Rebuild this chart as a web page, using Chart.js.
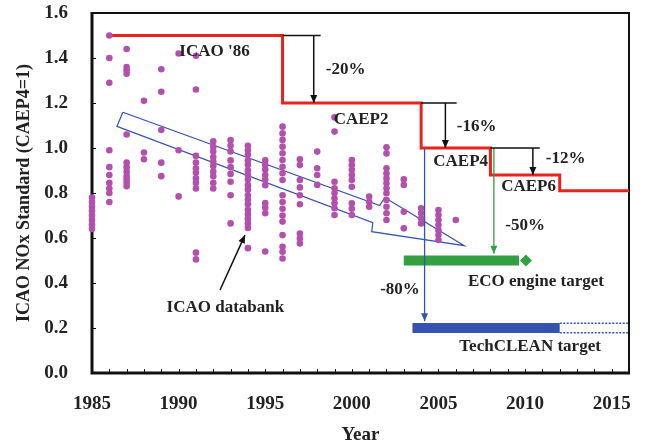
<!DOCTYPE html>
<html>
<head>
<meta charset="utf-8">
<script src="https://cdn.jsdelivr.net/npm/chart.js@4"></script>
<style>
  html, body { margin: 0; padding: 0; background: #fff; }
  canvas { display: block; }
</style>
</head>
<body>
<canvas id="nox" width="646" height="446"></canvas>
<script>
// ICAO NOx standards (step line)
const stdYears = [1986, 1996, 2004, 2008, 2012, 2016];
const stdLevels = [1.5, 1.2, 1.0, 0.88, 0.81, 0.81];

// ICAO databank engines, one column per certification year
const dbYears = [1985, 1986, 1987, 1988, 1989, 1990, 1991, 1992, 1993, 1994, 1995,
                 1996, 1997, 1998, 1999, 2000, 2001, 2002, 2003, 2004, 2005, 2006];
const dbValues = [
  [0.78, 0.76, 0.74, 0.72, 0.70, 0.68, 0.66, 0.64],
  [1.50, 1.40, 1.29, 0.99, 0.915, 0.88, 0.845, 0.82, 0.80, 0.76],
  [1.44, 1.36, 1.345, 1.33, 1.06, 0.935, 0.915, 0.895, 0.875, 0.86, 0.845, 0.83],
  [1.21, 0.98, 0.95],
  [1.35, 1.25, 1.08, 0.935, 0.875],
  [1.42, 0.99, 0.785],
  [1.41, 1.26, 0.965, 0.935, 0.91, 0.89, 0.865, 0.845, 0.82, 0.535, 0.505],
  [1.03, 1.005, 0.985, 0.96, 0.94, 0.92, 0.895, 0.875, 0.845, 0.82],
  [1.035, 1.01, 0.985, 0.945, 0.915, 0.885, 0.85, 0.79, 0.665],
  [1.01, 0.99, 0.97, 0.945, 0.925, 0.90, 0.88, 0.86, 0.835, 0.815, 0.79, 0.77, 0.75, 0.725, 0.705, 0.685, 0.665, 0.645, 0.555],
  [0.945, 0.925, 0.905, 0.88, 0.86, 0.835, 0.755, 0.735, 0.71, 0.54],
  [1.095, 1.065, 1.036, 1.006, 0.977, 0.947, 0.917, 0.888, 0.858, 0.79, 0.76, 0.73, 0.70, 0.673, 0.613, 0.561, 0.539, 0.509],
  [0.95, 0.924, 0.858, 0.825, 0.79, 0.75, 0.62, 0.598, 0.576],
  [0.984, 0.91, 0.88, 0.836],
  [1.136, 1.073, 0.85, 0.821, 0.80, 0.777, 0.754, 0.732, 0.702],
  [0.947, 0.924, 0.902, 0.88, 0.858, 0.828, 0.754, 0.73, 0.702],
  [0.784, 0.761, 0.739],
  [1.003, 0.976, 0.91, 0.887, 0.865, 0.843, 0.821, 0.799, 0.769, 0.739, 0.71, 0.68],
  [0.861, 0.836, 0.717, 0.643],
  [0.732, 0.71, 0.687, 0.665],
  [0.724, 0.702, 0.68, 0.658, 0.635, 0.613, 0.591],
  [0.68]
];

// targets
const ecoSpan = [2003, 2009.65];
const ecoLevel = 0.5;
const ecoMarkerYear = 2010.05;
const cleanSpan = [2003.5, 2012];
const cleanFuture = [2012, 2016];
const cleanLevel = 0.2;

// hollow trend arrow outline (year, value)
const trendYears = [1986.78, 2001.61, 2001.90, 2006.49, 2001.15, 2001.21, 1986.44, 1986.78];
const trendValues = [1.159, 0.744, 0.780, 0.566, 0.628, 0.668, 1.096, 1.159];

// axis ticks
const yearTicks = [1985, 1990, 1995, 2000, 2005, 2010, 2015];
const valueTicks = [0, 0.2, 0.4, 0.6, 0.8, 1.0, 1.2, 1.4, 1.6];

// labels: text, year, value
const labelTexts = ["ICAO '86", 'CAEP2', 'CAEP4', 'CAEP6', '-20%', '-16%', '-12%', '-50%', '-80%',
                    'ECO engine target', 'TechCLEAN target', 'ICAO databank'];
const labelYears = [1992.07, 2000.53, 2006.28, 2010.2, 1999.64, 2007.2, 2012.34, 2010.0, 2002.78,
                    2010.63, 2010.29, 1992.7];
const labelValues = [1.427, 1.124, 0.938, 0.827, 1.347, 1.093, 0.951, 0.653, 0.369,
                     0.404, 0.116, 0.29];

const serif = "'Liberation Serif', 'Times New Roman', serif";
const RED = '#e8231d', MAGENTA = '#b350ad', BLUE = '#3652b0', GREEN = '#32a040', BLACK = '#111';

const dbPoints = dbYears.flatMap((yr, i) => dbValues[i].map(v => ({ x: yr, y: v })));
const seg = (x1, y1, x2, y2) => [{ x: x1, y: y1 }, { x: x2, y: y2 }];

function lineSet(data, color, width, extra) {
  return Object.assign({
    type: 'line', data: data, borderColor: color, backgroundColor: color,
    borderWidth: width, pointRadius: 0, fill: false, tension: 0, clip: false
  }, extra || {});
}

const datasets = [
  // thin black drop lines with arrows
  lineSet(seg(1996, 1.5, 1998.2, 1.5), BLACK, 1.5),
  lineSet(seg(1997.8, 1.5, 1997.8, 1.2), BLACK, 1.5, { arrow: true }),
  lineSet(seg(2004, 1.2, 2006.05, 1.2), BLACK, 1.5),
  lineSet(seg(2005.4, 1.2, 2005.4, 1.0), BLACK, 1.5, { arrow: true }),
  lineSet(seg(2008, 1.0, 2010.85, 1.0), BLACK, 1.5),
  lineSet(seg(2010.45, 1.0, 2010.45, 0.88), BLACK, 1.5, { arrow: true }),
  // target drop lines
  lineSet(seg(2008.2, 1.0, 2008.2, ecoLevel + 0.03), GREEN, 1.3, { arrow: true }),
  lineSet(seg(2004.2, 1.0, 2004.2, cleanLevel + 0.03), BLUE, 1.3, { arrow: true }),
  // target bars
  lineSet(seg(ecoSpan[0], ecoLevel, ecoSpan[1], ecoLevel), GREEN, 10, { borderCapStyle: 'butt' }),
  { type: 'scatter', data: [{ x: ecoMarkerYear, y: ecoLevel }], pointStyle: 'rectRot',
    pointRadius: 6, backgroundColor: GREEN, borderWidth: 0, clip: false },
  lineSet(seg(cleanSpan[0], cleanLevel, cleanSpan[1], cleanLevel), BLUE, 10, { borderCapStyle: 'butt' }),
  lineSet(seg(cleanFuture[0], cleanLevel + 0.021, cleanFuture[1], cleanLevel + 0.021), BLUE, 1.5, { borderDash: [2, 1.5] }),
  lineSet(seg(cleanFuture[0], cleanLevel - 0.021, cleanFuture[1], cleanLevel - 0.021), BLUE, 1.5, { borderDash: [2, 1.5] }),
  // databank
  { type: 'scatter', data: dbPoints, backgroundColor: MAGENTA, borderWidth: 0,
    pointRadius: 3.3, clip: false },
  // trend arrow
  lineSet(trendYears.map((x, i) => ({ x: x, y: trendValues[i] })), BLUE, 1.2),
  // databank pointer
  lineSet(seg(1992.39, 0.369, 1993.83, 0.613), BLACK, 1.5, { arrow: true }),
  // standard step line
  lineSet(stdYears.map((x, i) => ({ x: x, y: stdLevels[i] })), RED, 3, { stepped: 'before' })
];

const overlay = {
  id: 'overlay',
  beforeDatasetsDraw(chart) {
    const ctx = chart.ctx, a = chart.chartArea;
    const xs = chart.scales.x, ys = chart.scales.y;
    ctx.save();
    ctx.strokeStyle = '#111';
    // small inside ticks
    ctx.lineWidth = 1;
    ctx.beginPath();
    for (let yr = 1985; yr <= 2016; yr++) {
      const px = Math.round(xs.getPixelForValue(yr)) + 0.5;
      ctx.moveTo(px, a.bottom); ctx.lineTo(px, a.bottom - 4);
    }
    valueTicks.forEach(v => {
      const py = Math.round(ys.getPixelForValue(v)) + 0.5;
      ctx.moveTo(a.left, py); ctx.lineTo(a.left + 4, py);
    });
    ctx.stroke();
    // frame
    ctx.lineWidth = 2;
    ctx.strokeRect(a.left, a.top, a.right - a.left, a.bottom - a.top);
    ctx.lineWidth = 3;
    ctx.beginPath();
    ctx.moveTo(a.left, a.top - 1); ctx.lineTo(a.left, a.bottom); ctx.lineTo(a.right + 1, a.bottom);
    ctx.stroke();
    ctx.restore();
  },
  afterDatasetsDraw(chart) {
    const ctx = chart.ctx;
    const xs = chart.scales.x, ys = chart.scales.y;
    ctx.save();
    chart.data.datasets.forEach((ds, i) => {
      if (!ds.arrow) return;
      const pts = chart.getDatasetMeta(i).data;
      const p = pts[pts.length - 1], q = pts[pts.length - 2];
      const ang = Math.atan2(p.y - q.y, p.x - q.x);
      ctx.fillStyle = ds.borderColor;
      ctx.beginPath();
      ctx.moveTo(p.x, p.y);
      ctx.lineTo(p.x - 8 * Math.cos(ang) + 3.5 * Math.sin(ang), p.y - 8 * Math.sin(ang) - 3.5 * Math.cos(ang));
      ctx.lineTo(p.x - 8 * Math.cos(ang) - 3.5 * Math.sin(ang), p.y - 8 * Math.sin(ang) + 3.5 * Math.cos(ang));
      ctx.closePath();
      ctx.fill();
    });
    ctx.fillStyle = '#222';
    ctx.font = 'bold 17px ' + serif;
    ctx.textAlign = 'center';
    ctx.textBaseline = 'middle';
    labelTexts.forEach((t, i) => {
      ctx.fillText(t, xs.getPixelForValue(labelYears[i]), ys.getPixelForValue(labelValues[i]));
    });
    ctx.restore();
  }
};

new Chart(document.getElementById('nox'), {
  data: { datasets: datasets },
  options: {
    responsive: false,
    animation: false,
    layout: { padding: { top: 13, right: 17, left: 0, bottom: 0 } },
    plugins: { legend: { display: false }, tooltip: { enabled: false } },
    scales: {
      x: {
        type: 'linear', min: 1985, max: 2016,
        afterBuildTicks: s => { s.ticks = yearTicks.map(v => ({ value: v })); },
        afterFit: s => { s.height = 73; s.paddingLeft = 0; s.paddingRight = 0; },
        grid: { display: false, drawTicks: false },
        border: { display: false },
        ticks: { color: '#222', padding: 20, maxRotation: 0, callback: v => String(v),
                 font: { family: serif, size: 19, weight: 'bold' } },
        title: { display: true, text: 'Year', color: '#222', padding: { top: 0, bottom: 0 },
                 font: { family: serif, size: 19, weight: 'bold' } }
      },
      y: {
        type: 'linear', min: 0, max: 1.6,
        afterBuildTicks: s => { s.ticks = valueTicks.map(v => ({ value: v })); },
        afterFit: s => { s.width = 92; s.paddingTop = 0; s.paddingBottom = 0; },
        grid: { display: false, drawTicks: false },
        border: { display: false },
        ticks: { color: '#222', padding: 24, callback: v => v.toFixed(1),
                 font: { family: serif, size: 19, weight: 'bold' } },
        title: { display: true, text: 'ICAO NOx Standard (CAEP4=1)', color: '#222', padding: { top: 14, bottom: 0 },
                 font: { family: serif, size: 18, weight: 'bold' } }
      }
    }
  },
  plugins: [overlay]
});
</script>
</body>
</html>
